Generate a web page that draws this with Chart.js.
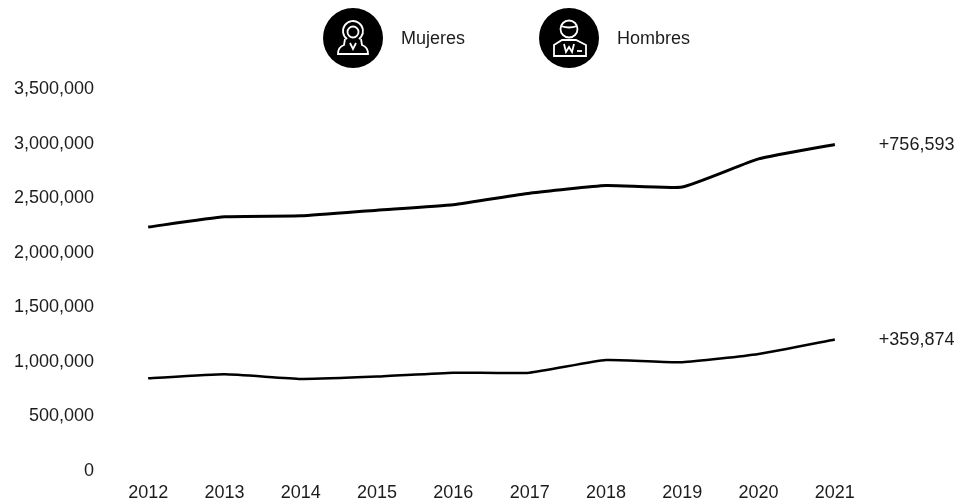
<!DOCTYPE html>
<html>
<head>
<meta charset="utf-8">
<title>Mujeres y Hombres</title>
<script src="https://cdn.jsdelivr.net/npm/chart.js@4"></script>
<style>
  html, body { margin: 0; padding: 0; background: #fff; }
  #wrap { width: 958px; height: 501px; }
</style>
</head>
<body>
<div id="wrap"><canvas id="chart" width="958" height="501"></canvas></div>
<script>
const years = ['2012', '2013', '2014', '2015', '2016', '2017', '2018', '2019', '2020', '2021'];
const hombres = [2235000, 2329000, 2338000, 2390000, 2440000, 2545000, 2615000, 2603000, 2860000, 2992000];
const mujeres = [849000, 886000, 844000, 865000, 901000, 901000, 1017000, 996000, 1072000, 1205000];
const seriesNames = ['Hombres', 'Mujeres'];
const endLabels = ['+756,593', '+359,874'];
const FONT = '18px "Liberation Sans", Arial, sans-serif';
const INK = '#1c1c1c';

function stroke(ctx, draw) {
  ctx.beginPath();
  draw();
  ctx.stroke();
}

// white outline of a woman, drawn inside the black legend disc
function iconMujer(ctx, x, y) {
  stroke(ctx, () => { ctx.arc(x, y - 7, 10, Math.PI * 0.7, Math.PI * 0.3); });
  stroke(ctx, () => { ctx.arc(x, y - 6, 5.5, 0, Math.PI * 2); });
  stroke(ctx, () => {
    ctx.moveTo(x - 8, y + 1);
    ctx.lineTo(x - 9, y + 7);
    ctx.quadraticCurveTo(x - 15, y + 9, x - 15, y + 16);
    ctx.lineTo(x + 15, y + 16);
    ctx.quadraticCurveTo(x + 15, y + 9, x + 9, y + 7);
    ctx.lineTo(x + 8, y + 1);
  });
  stroke(ctx, () => {
    ctx.moveTo(x - 3, y + 5);
    ctx.lineTo(x, y + 11);
    ctx.lineTo(x + 3, y + 5);
  });
}

// white outline of a man in a suit
function iconHombre(ctx, x, y) {
  stroke(ctx, () => { ctx.arc(x, y - 9, 8.5, 0, Math.PI * 2); });
  stroke(ctx, () => {
    ctx.moveTo(x - 8, y - 12);
    ctx.quadraticCurveTo(x, y - 9, x + 8, y - 12);
  });
  stroke(ctx, () => {
    ctx.moveTo(x - 15, y + 18);
    ctx.lineTo(x - 15, y + 7);
    ctx.lineTo(x - 7, y + 2);
    ctx.lineTo(x + 7, y + 2);
    ctx.lineTo(x + 17, y + 7);
    ctx.lineTo(x + 17, y + 18);
    ctx.closePath();
  });
  stroke(ctx, () => {
    ctx.moveTo(x - 5, y + 6);
    ctx.lineTo(x - 3, y + 14);
    ctx.lineTo(x, y + 9);
    ctx.lineTo(x + 3, y + 14);
    ctx.lineTo(x + 5, y + 6);
  });
  stroke(ctx, () => {
    ctx.moveTo(x + 8, y + 13);
    ctx.lineTo(x + 13, y + 13);
  });
}

const annotations = {
  id: 'annotations',
  afterDraw(chart) {
    const ctx = chart.ctx;
    ctx.save();
    ctx.font = FONT;
    ctx.textBaseline = 'middle';
    ctx.textAlign = 'left';

    // labels after the last point of each line
    chart.data.datasets.forEach((ds, i) => {
      const pts = chart.getDatasetMeta(i).data;
      const last = pts[pts.length - 1];
      ctx.fillStyle = INK;
      ctx.fillText(endLabels[i], last.x + 44, last.y + 1);
    });

    // legend with icons
    const items = [
      { name: seriesNames[1], x: 353, icon: iconMujer },
      { name: seriesNames[0], x: 569, icon: iconHombre }
    ];
    items.forEach(it => {
      ctx.fillStyle = '#000';
      ctx.beginPath();
      ctx.arc(it.x, 38, 30, 0, Math.PI * 2);
      ctx.fill();
      ctx.strokeStyle = '#fff';
      ctx.lineWidth = 1.8;
      it.icon(ctx, it.x, 38);
      ctx.fillStyle = INK;
      ctx.fillText(it.name, it.x + 48, 39);
    });
    ctx.restore();
  }
};

new Chart(document.getElementById('chart'), {
  type: 'line',
  data: {
    labels: years,
    datasets: [
      { label: seriesNames[0], data: hombres, borderColor: '#000', borderWidth: 3, pointRadius: 0, tension: 0.15 },
      { label: seriesNames[1], data: mujeres, borderColor: '#000', borderWidth: 2.5, pointRadius: 0, tension: 0.15 }
    ]
  },
  options: {
    responsive: false,
    animation: false,
    layout: { padding: { top: 89, right: 85, bottom: 0, left: 0 } },
    plugins: { legend: { display: false }, tooltip: { enabled: false } },
    scales: {
      x: {
        offset: true,
        afterFit(scale) { scale.height = 30; },
        grid: { display: false, drawTicks: false, offset: true },
        border: { display: false },
        ticks: { color: INK, font: { family: '"Liberation Sans"', size: 18 }, padding: 11, maxRotation: 0, autoSkip: false }
      },
      y: {
        min: 0,
        max: 3500000,
        afterFit(scale) { scale.width = 110; },
        grid: { display: false, drawTicks: false },
        border: { display: false },
        ticks: {
          stepSize: 500000,
          color: INK,
          font: { family: '"Liberation Sans"', size: 18 },
          padding: 16,
          callback: v => v.toLocaleString('en-US')
        }
      }
    }
  },
  plugins: [annotations]
});
</script>
</body>
</html>
